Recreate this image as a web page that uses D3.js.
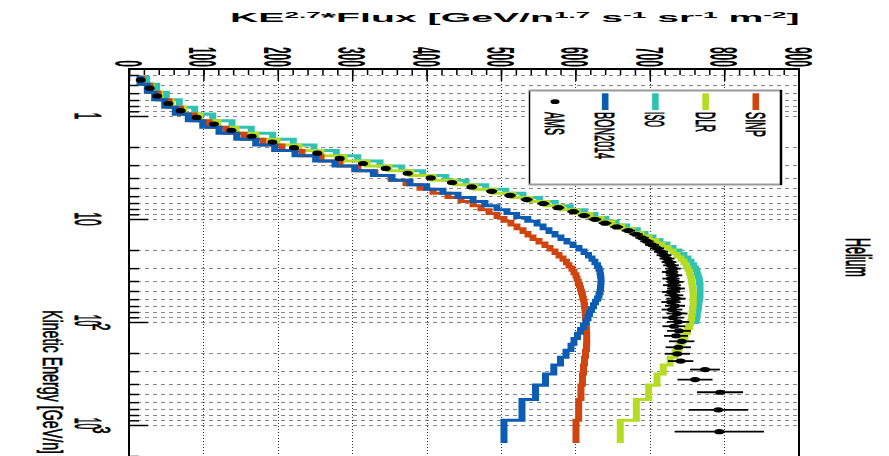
<!DOCTYPE html>
<html>
<head>
<meta charset="utf-8">
<script src="https://cdn.jsdelivr.net/npm/d3@7"></script>
<style>
body { margin: 0; background: #fff; }
svg { display: block; }
text { font-family: "Liberation Sans", Arial, sans-serif; fill: #000; }
</style>
</head>
<body>
<svg id="chart" width="889" height="456"></svg>
<script>
// AMS helium rigidity bins (GV), converted below to kinetic energy per nucleon
var rigidityEdges = [1.92, 2.15, 2.40, 2.67, 2.97, 3.29, 3.64, 4.02, 4.43, 4.88, 5.37, 5.90, 6.47, 7.09, 7.76, 8.48, 9.26, 10.1, 11.0, 12.0,
  13.0, 14.1, 15.3, 16.6, 18.0, 19.5, 21.1, 22.8, 24.7, 26.7, 28.8, 31.1, 33.5, 36.1, 38.9, 41.9, 45.1, 48.5, 52.2, 56.1,
  60.3, 64.8, 69.7, 74.9, 80.5, 86.5, 93.0, 100, 108, 116, 125, 135, 147, 160, 175, 192, 211, 233, 259, 291,
  330, 379, 441, 525, 643, 822, 1130, 1800, 3000];

// KE^2.7 * flux, one value per bin
var amsFlux = [15.7, 27.8, 38.0, 52.8, 69.5, 91.0, 114.2, 137.5, 164.9, 192.6,
  221.8, 253.1, 283.2, 314.5, 345.0, 374.6, 405.5, 434.1, 460.6, 487.5,
  512.1, 534.5, 556.9, 577.0, 597.2, 611.6, 626.3, 639.8, 655.5, 671.1,
  681.5, 689.5, 696.2, 703.0, 709.7, 715.1, 719.1, 723.1, 725.8, 728.5,
  731.2, 727.2, 732.5, 728.5, 733.9, 729.8, 735.2, 728.5, 732.5, 735.2,
  728.5, 733.9, 729.8, 736.6, 731.2, 737.9, 732.5, 739.2, 735.2, 742.9,
  738.3, 737.0, 741.5, 774.2, 760.8, 794.4, 792.1, 793.4];
var amsErr = [0.3, 0.4, 0.6, 0.8, 1.0, 1.4, 1.7, 2.0, 2.5, 2.9,
  3.3, 3.8, 4.2, 4.7, 5.2, 5.6, 6.1, 6.5, 6.9, 7.3,
  7.7, 8, 8, 8, 8, 8, 8.5, 8.5, 8.5, 9,
  9, 9, 9, 9.5, 9.5, 9.5, 10, 10, 10, 10.5,
  10.5, 11, 11, 11.5, 11.5, 12, 12, 12.5, 12.5, 13,
  13, 13.5, 14, 14, 14.5, 15, 15.5, 16, 16, 17,
  17, 17, 17, 20, 23.5, 31, 40, 60];
var bonFlux = [14.8, 24.6, 34.5, 48.0, 62.2, 79.7, 99.1, 121.0, 144.8, 170.3,
  195.8, 223.1, 250.9, 276.9, 303.4, 328.4, 353.5, 377.7, 400.1, 422.0,
  442.2, 462.4, 478.5, 494.6, 508.1, 521.1, 536.0, 548.4, 556.5, 564.5,
  572.6, 580.6, 588.7, 596.8, 604.8, 611.6, 617.6, 622.3, 626.3, 629.7,
  631.7, 633.1, 633.7, 634.4, 634.4, 634.1, 633.7, 633.1, 631.7, 629.7,
  627.0, 624.3, 621.6, 619.0, 617.0, 614.3, 610.9, 606.9, 602.8, 598.1,
  594.1, 587.4, 580.0, 571.0, 559.8, 546.4, 528.2, 504.0];
var isoFlux = [23.8, 37.2, 50.1, 67.6, 88.3, 112.5, 138.4, 164.4, 193.1, 220.8,
  248.7, 278.6, 307.4, 337.4, 366.5, 394.8, 425.7, 453.0, 479.4, 506.3,
  529.6, 552.0, 573.0, 593.1, 612.0, 626.3, 641.1, 654.6, 669.0, 683.2,
  693.5, 704.3, 713.7, 723.1, 731.2, 739.2, 745.9, 751.3, 755.4, 758.7,
  761.4, 763.4, 764.8, 766.1, 766.8, 767.5, 767.5, 767.5, 767.5, 766.8,
  766.1, 765.5, 764.8, 763.8, 763.0, 761.4];
var dlrFlux = [17.5, 29.6, 41.7, 56.5, 73.9, 95.4, 119.6, 143.8, 170.7, 198.9,
  228.5, 258.1, 289.0, 319.9, 349.5, 379.0, 408.6, 438.2, 465.1, 490.6,
  516.1, 539.0, 561.8, 582.0, 602.2, 619.6, 634.4, 649.2, 662.6, 676.1,
  688.2, 698.9, 708.3, 716.4, 724.5, 731.2, 736.6, 742.0, 746.0, 749.3,
  751.3, 753.4, 754.7, 755.6, 756.3, 757.0, 757.5, 758.1, 758.3, 758.5,
  758.3, 758.1, 757.5, 757.0, 756.3, 755.1, 753.4, 750.7, 747.3, 743.3,
  739.2, 733.9, 727.2, 718.1, 709.7, 698.5, 681.9, 660.3];
var sinpFlux = [17.5, 28.2, 39.0, 53.8, 69.2, 87.4, 107.5, 130.4, 154.6, 180.1,
  205.6, 232.5, 258.1, 283.6, 307.8, 330.6, 352.2, 372.3, 391.1, 408.6,
  428.8, 446.2, 462.4, 473.1, 483.9, 494.6, 504.0, 513.4, 521.5, 529.6,
  536.3, 543.0, 551.1, 559.1, 565.9, 572.6, 578.0, 583.3, 588.0, 591.4,
  595.4, 598.1, 600.8, 602.2, 603.9, 605.5, 606.9, 608.2, 609.5, 610.6,
  611.6, 612.3, 612.9, 613.3, 613.6, 614.2, 614.7, 614.9, 615.2, 615.2,
  614.9, 613.6, 612.2, 610.9, 609.5, 607.5, 604.4, 600.8];

var fluxTickLabels = ["0", "100", "200", "300", "400", "500", "600", "700", "800", "900"];
var energyTickLabels = [[1, "1", ""], [10, "10", ""], [100, "10", "2"], [1000, "10", "3"]];
var legendNames = ["AMS", "BON2014", "ISO", "DLR", "SINP"];
var legendColors = ["#000000", "#0b5cb2", "#2fc2b2", "#b4dc24", "#d0450f"];

var W = 889, H = 456;
var fLeft = 129, fRight = 799, fTop = 69, fBottom = 472;
var K = 0.43; // the canvas was turned and squashed: lines are thinner along y

var svg = d3.select("#chart");
svg.append("rect").attr("width", W).attr("height", H).attr("fill", "#fff");

var x = d3.scaleLinear().domain([0, 900]).range([129, 798.6]);
var y = d3.scaleLog().domain([1, 1000]).range([116, 425]);
var yAxis = y.copy().domain([y.invert(fTop), y.invert(fBottom)]).range([fTop, fBottom]);

var mN = 0.9315;
var edges = rigidityEdges.map(function(R) { return Math.sqrt(R * R / 4 + mN * mN) - mN; });

// grid
var logTicks = yAxis.ticks().filter(function(v) { return yAxis(v) > fTop + 2; });
var majorLog = [1, 10, 100, 1000];
var minorLog = logTicks.filter(function(v) { return majorLog.indexOf(v) < 0; });

var grid = svg.append("g");
grid.selectAll("line.h").data(logTicks).enter().append("line")
  .attr("x1", fLeft).attr("x2", fRight)
  .attr("y1", function(d) { return Math.round(y(d)) + 0.5; })
  .attr("y2", function(d) { return Math.round(y(d)) + 0.5; })
  .attr("stroke", "#888").attr("stroke-width", 1).attr("stroke-dasharray", "4,4");
grid.selectAll("line.v").data(d3.range(100, 900, 100)).enter().append("line")
  .attr("x1", function(d) { return Math.round(x(d)) + 0.5; })
  .attr("x2", function(d) { return Math.round(x(d)) + 0.5; })
  .attr("y1", fTop).attr("y2", fBottom)
  .attr("stroke", "#333").attr("stroke-width", 1).attr("stroke-dasharray", "1,2");

// axes
var topMinor = svg.append("g").attr("transform", "translate(0," + fTop + ")")
  .call(d3.axisBottom(x).tickValues(d3.range(0, 901, 20)).tickSize(6).tickFormat(""));
var topMajor = svg.append("g").attr("transform", "translate(0," + fTop + ")")
  .call(d3.axisBottom(x).tickValues(d3.range(0, 901, 100)).tickSize(12).tickFormat(""));
var leftMinor = svg.append("g").attr("transform", "translate(" + fLeft + ",0)")
  .call(d3.axisRight(yAxis).tickValues(minorLog).tickSize(10).tickFormat(""));
var leftMajor = svg.append("g").attr("transform", "translate(" + fLeft + ",0)")
  .call(d3.axisRight(yAxis).tickValues(majorLog).tickSize(19).tickFormat(""));
[topMinor, topMajor, leftMinor, leftMajor].forEach(function(g) {
  g.select(".domain").remove();
  g.selectAll(".tick line").attr("stroke", "#000").attr("stroke-width", 1.5);
});

// histograms
svg.append("clipPath").attr("id", "plotclip").append("rect")
  .attr("x", fLeft).attr("y", fTop).attr("width", fRight - fLeft).attr("height", fBottom - fTop);

function stepPath(vals) {
  var p = "";
  vals.forEach(function(v, i) {
    var xv = x(v), y0 = y(edges[i]) / K, y1 = y(edges[i + 1]) / K;
    p += (i === 0 ? "M" + xv + "," + y0 : "H" + xv) + "V" + y1;
  });
  return p;
}

var plot = svg.append("g").attr("clip-path", "url(#plotclip)");
var hists = plot.append("g").attr("transform", "scale(1," + K + ")");
[[isoFlux, legendColors[2]], [dlrFlux, legendColors[3]], [sinpFlux, legendColors[4]], [bonFlux, legendColors[1]]]
  .forEach(function(s) {
    hists.append("path").attr("d", stepPath(s[0])).attr("fill", "none")
      .attr("stroke", s[1]).attr("stroke-width", 7).attr("stroke-linejoin", "miter");
  });

// AMS points
var amsY = amsFlux.map(function(v, i) { return y(Math.sqrt(edges[i] * edges[i + 1])); });
plot.selectAll("line.err").data(amsFlux).enter().append("line")
  .attr("x1", function(d, i) { return x(d - amsErr[i]); })
  .attr("x2", function(d, i) { return x(d + amsErr[i]); })
  .attr("y1", function(d, i) { return amsY[i]; })
  .attr("y2", function(d, i) { return amsY[i]; })
  .attr("stroke", "#000").attr("stroke-width", 1.8);
plot.selectAll("ellipse.ams").data(amsFlux).enter().append("ellipse")
  .attr("cx", function(d) { return x(d); })
  .attr("cy", function(d, i) { return amsY[i]; })
  .attr("rx", 5).attr("ry", 2.6).attr("fill", "#000");

// frame
svg.append("line").attr("x1", fLeft).attr("x2", fLeft).attr("y1", fTop - 1).attr("y2", fBottom).attr("stroke", "#000").attr("stroke-width", 2);
svg.append("line").attr("x1", fLeft - 1).attr("x2", fRight + 1).attr("y1", fTop).attr("y2", fTop).attr("stroke", "#000").attr("stroke-width", 2);
svg.append("line").attr("x1", fRight).attr("x2", fRight).attr("y1", fTop - 1).attr("y2", fBottom).attr("stroke", "#000").attr("stroke-width", 2);

// turned text: reads downward, glyph tops point right, glyphs stretched across
function vtext(g, xb, yp, str, fv, stretch, len, anchor, weight) {
  var t = g.append("g").attr("transform", "translate(" + xb + "," + yp + ") rotate(90) scale(1," + stretch + ")")
    .append("text").attr("x", 0).attr("y", 0)
    .attr("font-size", fv).attr("font-weight", weight || "normal")
    .attr("text-anchor", anchor || "start")
    .attr("textLength", len).attr("lengthAdjust", "spacingAndGlyphs")
    .text(str);
  if (!weight) t.attr("stroke", "#000").attr("stroke-width", 0.35);
  return t;
}

var labels = svg.append("g");
fluxTickLabels.forEach(function(t) {
  var xv = x(+t);
  vtext(labels, xv - 14, 67, t, 12, 3.3, 6.7 * t.length, "end", "bold");
});

energyTickLabels.forEach(function(t) {
  var yv = y(t[0]);
  if (!t[2]) {
    vtext(labels, 75, yv, t[1], 12.6, 2.95, 6.8 * t[1].length, "middle");
  } else {
    vtext(labels, 75, yv - 7.3, t[1], 12.6, 2.95, 11.7, "start");
    vtext(labels, 93, yv + 1.5, t[2], 9, 2.7, 7, "start");
  }
});

vtext(labels, 43, 310, "Kinetic Energy [GeV/n]", 14.4, 1.95, 144, "start");
vtext(labels, 846, 238, "Helium", 12.5, 2.8, 39, "start");

// title
var title = svg.append("text").attr("font-weight", "bold").attr("font-size", 12);
title.append("tspan").text("KE");
title.append("tspan").attr("font-size", 8).attr("dy", -4).text("2.7");
title.append("tspan").attr("dy", 4).text("*Flux [GeV/n");
title.append("tspan").attr("font-size", 8).attr("dy", -4).text("1.7");
title.append("tspan").attr("dy", 4).text(" s");
title.append("tspan").attr("font-size", 8).attr("dy", -4).text("-1");
title.append("tspan").attr("dy", 4).text(" sr");
title.append("tspan").attr("font-size", 8).attr("dy", -4).text("-1");
title.append("tspan").attr("dy", 4).text(" m");
title.append("tspan").attr("font-size", 8).attr("dy", -4).text("-2");
title.append("tspan").attr("dy", 4).text("]");
var tb = title.node().getBBox();
var ts = 570 / tb.width;
title.attr("transform", "translate(" + (230 - tb.x * ts) + ",22) scale(" + ts + ",1.05)");

// legend
var lg = svg.append("g");
lg.append("rect").attr("x", 529.5).attr("y", 90.5).attr("width", 252).attr("height", 94)
  .attr("fill", "#fff").attr("stroke", "none");
lg.append("line").attr("x1", 529.5).attr("x2", 529.5).attr("y1", 90).attr("y2", 185).attr("stroke", "#000").attr("stroke-width", 1.5);
lg.append("line").attr("x1", 529).attr("x2", 782).attr("y1", 90.5).attr("y2", 90.5).attr("stroke", "#999").attr("stroke-width", 2);
lg.append("line").attr("x1", 529).attr("x2", 782).attr("y1", 184.5).attr("y2", 184.5).attr("stroke", "#999").attr("stroke-width", 2);
lg.append("line").attr("x1", 781).attr("x2", 781).attr("y1", 90).attr("y2", 185).attr("stroke", "#000").attr("stroke-width", 2.5);

var nameLen = [23, 47, 15, 20, 25];
legendNames.forEach(function(name, i) {
  var cx = 555 + i * 50.2;
  if (i === 0) {
    lg.append("ellipse").attr("cx", cx).attr("cy", 101.7).attr("rx", 4.5).attr("ry", 2.4).attr("fill", "#000");
  } else {
    lg.append("rect").attr("x", cx - 3.3).attr("y", 93.3).attr("width", 6.6).attr("height", 16.7).attr("fill", legendColors[i]);
  }
  vtext(lg, cx - 10, 112, name, 10.7, 2.6, nameLen[i], "start");
});
</script>
</body>
</html>
